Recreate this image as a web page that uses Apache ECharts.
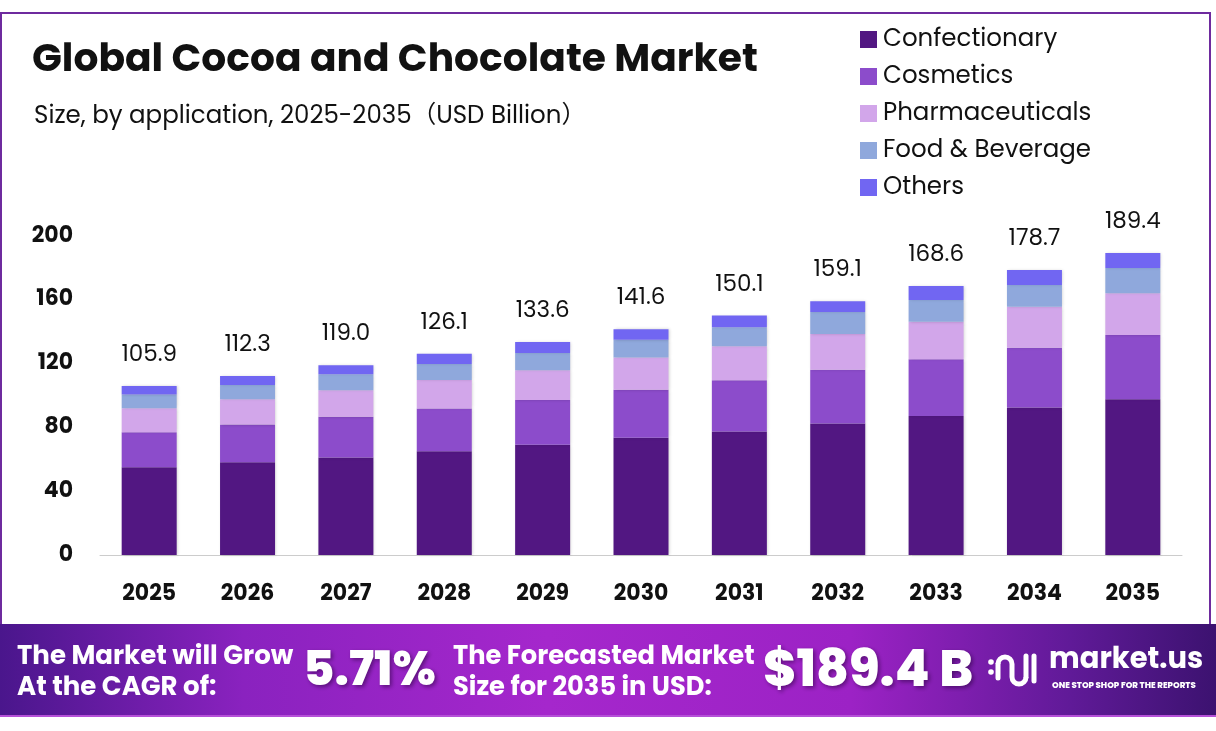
<!DOCTYPE html>
<html>
<head>
<meta charset="utf-8">
<script src="https://cdn.jsdelivr.net/npm/echarts@6/dist/echarts.min.js"></script>
<style>
html,body{margin:0;padding:0;background:#fff;}
#chart{width:1216px;height:731px;}
</style>
</head>
<body>
<div id="chart"></div>
<script>
const years = ['2025','2026','2027','2028','2029','2030','2031','2032','2033','2034','2035'];
const confectionary   = [55.0, 58.1, 61.1, 65.0, 69.1, 73.5, 77.5, 82.5, 87.1, 92.4, 97.7];
const cosmetics       = [22.0, 23.7, 25.6, 26.9, 28.1, 30.1, 32.1, 33.6, 35.7, 37.6, 40.3];
const pharmaceuticals = [15.0, 15.8, 16.6, 17.8, 18.7, 20.3, 21.3, 22.5, 23.4, 25.7, 26.1];
const foodBeverage    = [8.7, 9.0, 10.1, 10.1, 10.8, 11.0, 11.9, 13.7, 13.6, 13.6, 15.9];
const others          = [5.2, 5.7, 5.6, 6.3, 6.9, 6.7, 7.3, 6.8, 8.8, 9.4, 9.4];
const totals          = ['105.9','112.3','119.0','126.1','133.6','141.6','150.1','159.1','168.6','178.7','189.4'];
const seriesNames = ['Confectionary','Cosmetics','Pharmaceuticals','Food & Beverage','Others'];
const seriesColors = ['#521782','#8c4ccb','#d2a6ea','#8fa8dc','#7166f2'];
const yTicks = { min: 0, max: 200, interval: 40 };

const FONT = 'Poppins, Inter, "Noto Sans", sans-serif';
const seriesData = [confectionary, cosmetics, pharmaceuticals, foodBeverage, others];

const chart = echarts.init(document.getElementById('chart'));

const series = seriesData.map((d, i) => {
  const s = {
    name: seriesNames[i],
    type: 'bar',
    stack: 'total',
    barWidth: 55,
    data: d,
    itemStyle: { color: seriesColors[i], shadowColor: 'rgba(0,0,0,0.18)', shadowBlur: 3, shadowOffsetX: 1 }
  };
  if (i === seriesData.length - 1) {
    s.label = {
      show: true,
      position: 'top',
      distance: 19,
      fontFamily: FONT,
      fontSize: 23,
      color: '#111',
      formatter: p => totals[p.dataIndex]
    };
  }
  return s;
});

const gradFooter = new echarts.graphic.LinearGradient(0, 0, 1, 0, [
  { offset: 0, color: '#4a168c' },
  { offset: 0.2, color: '#8a22bf' },
  { offset: 0.45, color: '#a527cc' },
  { offset: 0.7, color: '#9c22c5' },
  { offset: 0.88, color: '#601a98' },
  { offset: 1, color: '#3c1270' }
]);

const white = '#ffffff';
const shadow = { textShadowColor: 'rgba(40,0,60,0.55)', textShadowBlur: 4, textShadowOffsetX: 2, textShadowOffsetY: 2 };

chart.setOption({
  backgroundColor: '#ffffff',
  animation: false,
  title: [
    { text: 'Global Cocoa and Chocolate Market', left: 27, top: 37,
      textStyle: { fontFamily: FONT, fontSize: 39.2, fontWeight: 700, color: '#111' } },
    { text: 'Size, by application, 2025-2035（USD Billion）', left: 29, top: 100,
      textStyle: { fontFamily: 'Poppins, "Noto Sans CJK SC", sans-serif', fontSize: 24.5, fontWeight: 'normal', color: '#111' } }
  ],
  legend: {
    orient: 'vertical',
    left: 855,
    top: 22,
    itemWidth: 17,
    itemHeight: 17,
    itemGap: 12,
    icon: 'rect',
    data: seriesNames,
    textStyle: { fontFamily: FONT, fontSize: 24.5, color: '#111', padding: [0, 0, 0, 1] }
  },
  grid: { left: 100, right: 34, top: 236, bottom: 176, containLabel: false },
  xAxis: {
    type: 'category',
    data: years,
    axisLine: { lineStyle: { color: '#cccccc', width: 1 } },
    axisTick: { show: false },
    axisLabel: { fontFamily: FONT, fontSize: 22, fontWeight: 'bold', color: '#111', margin: 28 }
  },
  yAxis: {
    type: 'value',
    min: yTicks.min, max: yTicks.max, interval: yTicks.interval,
    axisLine: { show: false },
    axisTick: { show: false },
    splitLine: { show: false },
    axisLabel: { fontFamily: FONT, fontSize: 22, fontWeight: 'bold', color: '#111', margin: 27 }
  },
  series: series,
  graphic: [
    { type: 'rect', shape: { x: 1, y: 13, width: 1209, height: 620 }, style: { fill: 'none', stroke: '#6e2a9e', lineWidth: 2 }, z: 0 },
    { type: 'rect', shape: { x: 0, y: 624, width: 1216, height: 93 }, style: { fill: gradFooter }, z: 10 },
    { type: 'rect', shape: { x: 0, y: 715, width: 1216, height: 2 }, style: { fill: '#b550d8' }, z: 11 },
    { type: 'text', left: 17, top: 642, z: 12,
      style: { text: 'The Market will Grow\nAt the CAGR of:', fill: white, fontFamily: FONT, fontSize: 26, fontWeight: 700, lineHeight: 31 } },
    { type: 'text', left: 303, top: 649, z: 12,
      style: Object.assign({ text: '5.71%', fill: white, fontFamily: FONT, fontSize: 48, fontWeight: 800 }, shadow) },
    { type: 'text', left: 453, top: 642, z: 12,
      style: { text: 'The Forecasted Market\nSize for 2035 in USD:', fill: white, fontFamily: FONT, fontSize: 25.7, fontWeight: 700, lineHeight: 31 } },
    { type: 'text', left: 763, top: 648, z: 12,
      style: Object.assign({ text: '$189.4 B', fill: white, fontFamily: FONT, fontSize: 50.5, fontWeight: 800 }, shadow) },
    // logo icon
    { type: 'circle', shape: { cx: 991, cy: 662, r: 2.8 }, style: { fill: white }, z: 12 },
    { type: 'circle', shape: { cx: 991, cy: 672, r: 2.8 }, style: { fill: white }, z: 12 },
    { type: 'arc', shape: { cx: 1005, cy: 664, r: 7, startAngle: Math.PI, endAngle: 0 }, style: { stroke: white, lineWidth: 5, fill: 'none' }, z: 12 },
    { type: 'line', shape: { x1: 998, y1: 664, x2: 998, y2: 678 }, style: { stroke: white, lineWidth: 5, lineCap: 'round' }, z: 12 },
    { type: 'line', shape: { x1: 1012, y1: 664, x2: 1012, y2: 677 }, style: { stroke: white, lineWidth: 5 }, z: 12 },
    { type: 'arc', shape: { cx: 1019, cy: 677, r: 7, startAngle: 0, endAngle: Math.PI }, style: { stroke: white, lineWidth: 5, fill: 'none' }, z: 12 },
    { type: 'line', shape: { x1: 1026, y1: 656, x2: 1026, y2: 677 }, style: { stroke: white, lineWidth: 5, lineCap: 'round' }, z: 12 },
    { type: 'line', shape: { x1: 1034, y1: 656, x2: 1034, y2: 681 }, style: { stroke: white, lineWidth: 5, lineCap: 'round' }, z: 12 },
    { type: 'text', left: 1049, top: 646, z: 12,
      style: { text: 'market.us', fill: white, fontFamily: FONT, fontSize: 29, fontWeight: 700 } },
    { type: 'text', left: 1052, top: 681, z: 12,
      style: { text: 'ONE STOP SHOP FOR THE REPORTS', fill: white, fontFamily: FONT, fontSize: 8.5, fontWeight: 800 } }
  ]
});
</script>
</body>
</html>
